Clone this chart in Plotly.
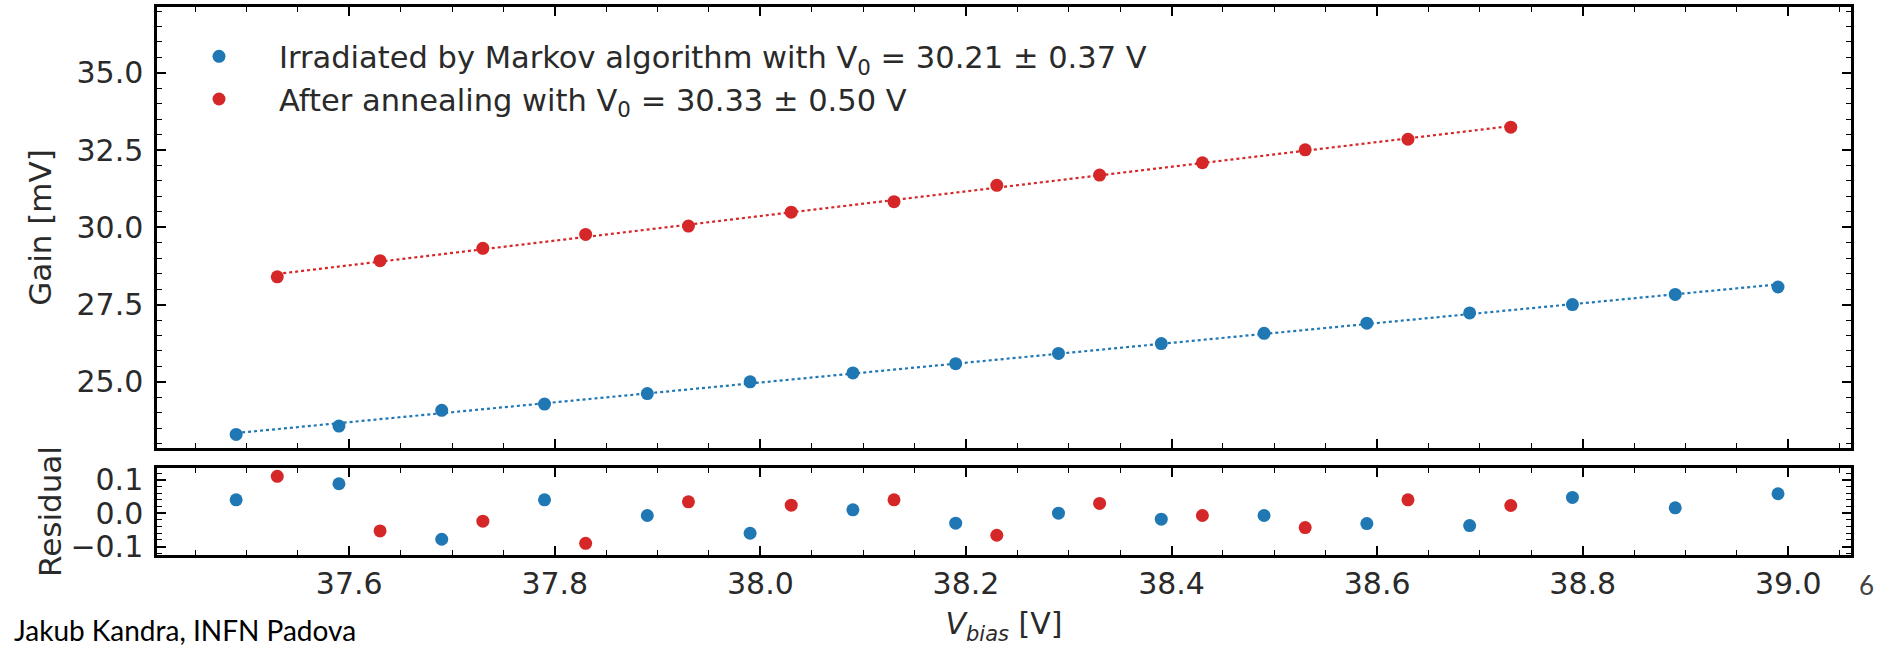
import numpy as np
import plotly.graph_objects as go
from plotly.subplots import make_subplots

# ---------------- data ----------------
v_irr = [37.49, 37.59, 37.69, 37.79, 37.89, 37.99, 38.09, 38.19,
         38.29, 38.39, 38.49, 38.59, 38.69, 38.79, 38.89, 38.99]
gain_irr = [23.30, 23.57, 24.08, 24.28, 24.62, 25.00, 25.29, 25.59,
            25.92, 26.24, 26.57, 26.90, 27.23, 27.50, 27.83, 28.07]
res_irr = [0.040, 0.088, -0.078, 0.040, -0.007, -0.060, 0.010, -0.030,
           0.000, -0.018, -0.007, -0.031, -0.037, 0.047, 0.016, 0.058]

v_ann = [37.53, 37.63, 37.73, 37.83, 37.93, 38.03, 38.13, 38.23,
         38.33, 38.43, 38.53, 38.63, 38.73]
gain_ann = [28.40, 28.92, 29.32, 29.77, 30.04, 30.49, 30.83, 31.36,
            31.69, 32.09, 32.51, 32.85, 33.24]
res_ann = [0.110, -0.053, -0.024, -0.090, 0.034, 0.024, 0.040, -0.066,
           0.029, -0.007, -0.043, 0.040, 0.023]

label_irr = "Irradiated by Markov algorithm with V<sub>0</sub> = 30.21 ± 0.37 V"
label_ann = "After annealing with V<sub>0</sub> = 30.33 ± 0.50 V"

gain_ticks = [25.0, 27.5, 30.0, 32.5, 35.0]
res_ticks = [-0.1, 0.0, 0.1]
v_ticks = [37.6, 37.8, 38.0, 38.2, 38.4, 38.6, 38.8, 39.0]

BLUE = "#1f77b4"
RED = "#d62728"
TXT = "#2a2a2a"
FONT = "DejaVu Sans"

# plot-area geometry (px): left 157, right 1851, top 7, residual bottom 555
PW = 1694
PH = 548

# ---------------- figure ----------------
fig = make_subplots(rows=2, cols=1, shared_xaxes=True,
                    row_heights=[0.8, 0.2], vertical_spacing=0.0)


def fit_line(x, y):
    k, b = np.polyfit(x, y, 1)
    xs = np.array([min(x), max(x)])
    return xs, k * xs + b


for x, y, r, col, lab in [(v_irr, gain_irr, res_irr, BLUE, label_irr),
                          (v_ann, gain_ann, res_ann, RED, label_ann)]:
    fx, fy = fit_line(x, y)
    fig.add_trace(go.Scatter(x=fx, y=fy, mode="lines",
                             line=dict(color=col, width=2.2, dash="dot"),
                             showlegend=False, hoverinfo="skip"), row=1, col=1)
    fig.add_trace(go.Scatter(x=x, y=y, mode="markers", name=lab,
                             marker=dict(color=col, size=13)), row=1, col=1)
    fig.add_trace(go.Scatter(x=x, y=r, mode="markers", showlegend=False,
                             marker=dict(color=col, size=13)), row=2, col=1)

axis_common = dict(showline=True, linecolor="black", linewidth=2.5,
                   mirror="allticks", ticks="inside", ticklen=9,
                   tickwidth=1.5, tickcolor="black", showgrid=False,
                   zeroline=False, automargin=False,
                   tickfont=dict(family=FONT, size=30, color=TXT))

fig.update_xaxes(**axis_common)
fig.update_yaxes(**axis_common)

fig.update_xaxes(range=[37.413, 39.061], tickvals=v_ticks,
                 ticktext=[f"{v:.1f}" for v in v_ticks],
                 minor=dict(ticks="inside", dtick=0.05, tick0=37.6,
                            ticklen=5, tickwidth=1.2, tickcolor="black",
                            showgrid=False))
fig.update_xaxes(showticklabels=False, row=1, col=1)
fig.update_xaxes(title=dict(text="<i>V</i><sub><i>bias</i></sub> [V]",
                            font=dict(family=FONT, size=30, color=TXT),
                            standoff=14), row=2, col=1)

fig.update_yaxes(ticklabelstandoff=5)
fig.update_yaxes(range=[22.86, 37.13], tickvals=gain_ticks,
                 ticktext=[f"{v:.1f}" for v in gain_ticks],
                 minor=dict(ticks="inside", dtick=0.5, tick0=25,
                            ticklen=5, tickwidth=1.2, tickcolor="black",
                            showgrid=False),
                 title=dict(text="Gain [mV]",
                            font=dict(family=FONT, size=31, color=TXT),
                            standoff=16),
                 row=1, col=1)
fig.update_yaxes(range=[-0.125, 0.135], tickvals=res_ticks,
                 ticktext=["\u22120.1", "0.0", "0.1"],
                 minor=dict(ticks="inside", dtick=0.02, tick0=0,
                            ticklen=5, tickwidth=1.2, tickcolor="black",
                            showgrid=False),
                 title=dict(text="Residual",
                            font=dict(family=FONT, size=31, color=TXT),
                            standoff=0),
                 row=2, col=1)

# top panel y 7-448, residual 468-555
fig.update_layout(
    yaxis=dict(domain=[107 / PH, 1.0]),
    yaxis2=dict(domain=[0.0, 87 / PH]),
)

fig.add_annotation(text="Jakub Kandra, INFN Padova", xref="paper",
                   yref="paper", x=-145 / PW, y=-75 / PH,
                   xanchor="left", yanchor="middle", showarrow=False,
                   font=dict(family="Lato", size=28, color="black"))
fig.add_annotation(text="6", xref="paper", yref="paper",
                   x=1 + 15 / PW, y=-30 / PH,
                   xanchor="center", yanchor="middle", showarrow=False,
                   font=dict(family="Lato", size=26, color="#444"))

fig.update_layout(
    width=1880, height=649,
    margin=dict(l=157, r=29, t=7, b=94, autoexpand=False),
    paper_bgcolor="white", plot_bgcolor="white",
    font=dict(family=FONT, color=TXT),
    legend=dict(x=2 / PW, y=1 - 23 / PH, xanchor="left",
                yanchor="top", bgcolor="rgba(0,0,0,0)",
                font=dict(family=FONT, size=30.5, color=TXT),
                itemwidth=110),
    showlegend=True,
)

fig.write_html("out.html",
               config={"displayModeBar": False},
               post_script="document.body.style.margin='0';"
                           "document.body.style.overflow='hidden';")
